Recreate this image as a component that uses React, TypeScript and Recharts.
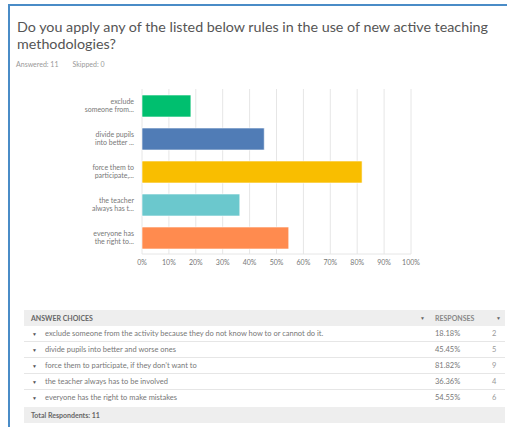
import React from "react";
import { BarChart, Bar, XAxis, YAxis, CartesianGrid, Cell } from "recharts";

const titleText = "Do you apply any of the listed below rules in the use of new active teaching methodologies?";
const answeredText = "Answered: 11";
const skippedText = "Skipped: 0";

const shortLabels: string[][] = [
  ["exclude", "someone from..."],
  ["divide pupils", "into better ..."],
  ["force them to", "participate,..."],
  ["the teacher", "always has t..."],
  ["everyone has", "the right to..."],
];
const fullLabels = [
  "exclude someone from the activity because they do not know how to or cannot do it.",
  "divide pupils into better and worse ones",
  "force them to participate, if they don\u2019t want to",
  "the teacher always has to be involved",
  "everyone has the right to make mistakes",
];
const percents = [18.18, 45.45, 81.82, 36.36, 54.55];
const counts = [2, 5, 9, 4, 6];
const barColors = ["#00BF6F", "#507CB6", "#F9BE00", "#6BC8CD", "#FF8B4F"];
const xTicks = [0, 10, 20, 30, 40, 50, 60, 70, 80, 90, 100];
const totalRespondents = 11;

const data = percents.map((p, i) => ({ key: String(i), value: p }));

const FONT = "Lato, 'Open Sans', sans-serif";

const YTick = (props: any) => {
  const { x, y, payload } = props;
  const lines = shortLabels[Number(payload.value)] || [];
  return (
    <text x={x} y={y} textAnchor="end" fontSize={7} fill="#777" fontFamily={FONT}>
      {lines.map((l, i) => (
        <tspan key={i} x={x} dy={i === 0 ? -1.5 : 8}>
          {l}
        </tspan>
      ))}
    </text>
  );
};

export default function App() {
  const rowTop = 326;
  const rowH = 16;
  return (
    <div
      style={{
        position: "absolute",
        left: 0,
        top: 0,
        width: 507,
        height: 427,
        background: "#fff",
        overflow: "hidden",
        fontFamily: FONT,
      }}
    >
      <div style={{ position: "absolute", left: 9, top: 4, right: 0, height: 2, background: "#4A8CC7" }} />
      <div style={{ position: "absolute", left: 8, top: 4, width: 2, bottom: 0, background: "#4A8CC7" }} />
      <div
        style={{
          position: "absolute",
          left: 17,
          top: 18,
          width: 488,
          fontSize: 14.3,
          lineHeight: "17px",
          color: "#555",
        }}
      >
        {titleText}
      </div>
      <div style={{ position: "absolute", left: 16, top: 60, fontSize: 7, color: "#999", whiteSpace: "nowrap" }}>
        <span>{answeredText}</span>
        <span style={{ marginLeft: 14 }}>{skippedText}</span>
      </div>
      <div style={{ position: "absolute", left: 0, top: 80 }}>
        <BarChart
          width={507}
          height={200}
          data={data}
          layout="vertical"
          margin={{ top: 9, right: 96, bottom: 6, left: 0 }}
          barSize={22}
        >
          <CartesianGrid horizontal={false} stroke="#e6e6e6" />
          <XAxis
            type="number"
            domain={[0, 100]}
            ticks={xTicks}
            tickFormatter={(v: number) => `${v}%`}
            tick={{ fontSize: 7, fill: "#777", fontFamily: FONT }}
            tickLine={false}
            axisLine={{ stroke: "#e6e6e6" }}
            tickSize={4}
            height={20}
            interval={0}
          />
          <YAxis
            type="category"
            dataKey="key"
            width={142}
            tick={<YTick />}
            tickLine={false}
            axisLine={false}
            tickSize={8}
            tickMargin={0}
            interval={0}
          />
          <Bar dataKey="value" isAnimationActive={false} stroke="#ffffff" strokeOpacity={0.6} strokeWidth={1}>
            {data.map((d, i) => (
              <Cell key={d.key} fill={barColors[i]} />
            ))}
          </Bar>
        </BarChart>
      </div>
      <div style={{ position: "absolute", left: 24, top: 310, width: 481, fontSize: 7.5, color: "#777", whiteSpace: "nowrap" }}>
        <div
          style={{
            position: "absolute",
            left: 0,
            top: 0,
            width: 481,
            height: 16,
            background: "#EEEEEE",
          }}
        >
          <span style={{ position: "absolute", left: 7, top: 4, fontSize: 7, fontWeight: 700, color: "#666" }}>ANSWER CHOICES</span>
          <span style={{ position: "absolute", left: 396, top: 5, fontSize: 5, color: "#666" }}>{"\u25BC"}</span>
          <span style={{ position: "absolute", left: 411, top: 4, fontSize: 7, fontWeight: 700, color: "#888" }}>RESPONSES</span>
          <span style={{ position: "absolute", left: 472, top: 5, fontSize: 5, color: "#666" }}>{"\u25BC"}</span>
        </div>
        {fullLabels.map((label, i) => (
          <div
            key={i}
            style={{
              position: "absolute",
              left: 0,
              top: rowTop - 310 + i * rowH,
              width: 481,
              height: rowH,
              borderBottom: i < fullLabels.length - 1 ? "1px solid #e6e6e6" : "none",
              boxSizing: "border-box",
            }}
          >
            <span style={{ position: "absolute", left: 8, top: 5, fontSize: 5, color: "#555" }}>{"\u25BC"}</span>
            <span style={{ position: "absolute", left: 21, top: 3 }}>{label}</span>
            <span style={{ position: "absolute", left: 411, top: 3 }}>{percents[i].toFixed(2)}%</span>
            <span style={{ position: "absolute", left: 468, top: 3, color: "#999" }}>{counts[i]}</span>
          </div>
        ))}
        <div
          style={{
            position: "absolute",
            left: 0,
            top: 97,
            width: 481,
            height: 16,
            background: "#EEEEEE",
          }}
        >
          <span style={{ position: "absolute", left: 7, top: 4, fontSize: 7, fontWeight: 700, color: "#666" }}>
            Total Respondents: {totalRespondents}
          </span>
        </div>
      </div>
    </div>
  );
}
